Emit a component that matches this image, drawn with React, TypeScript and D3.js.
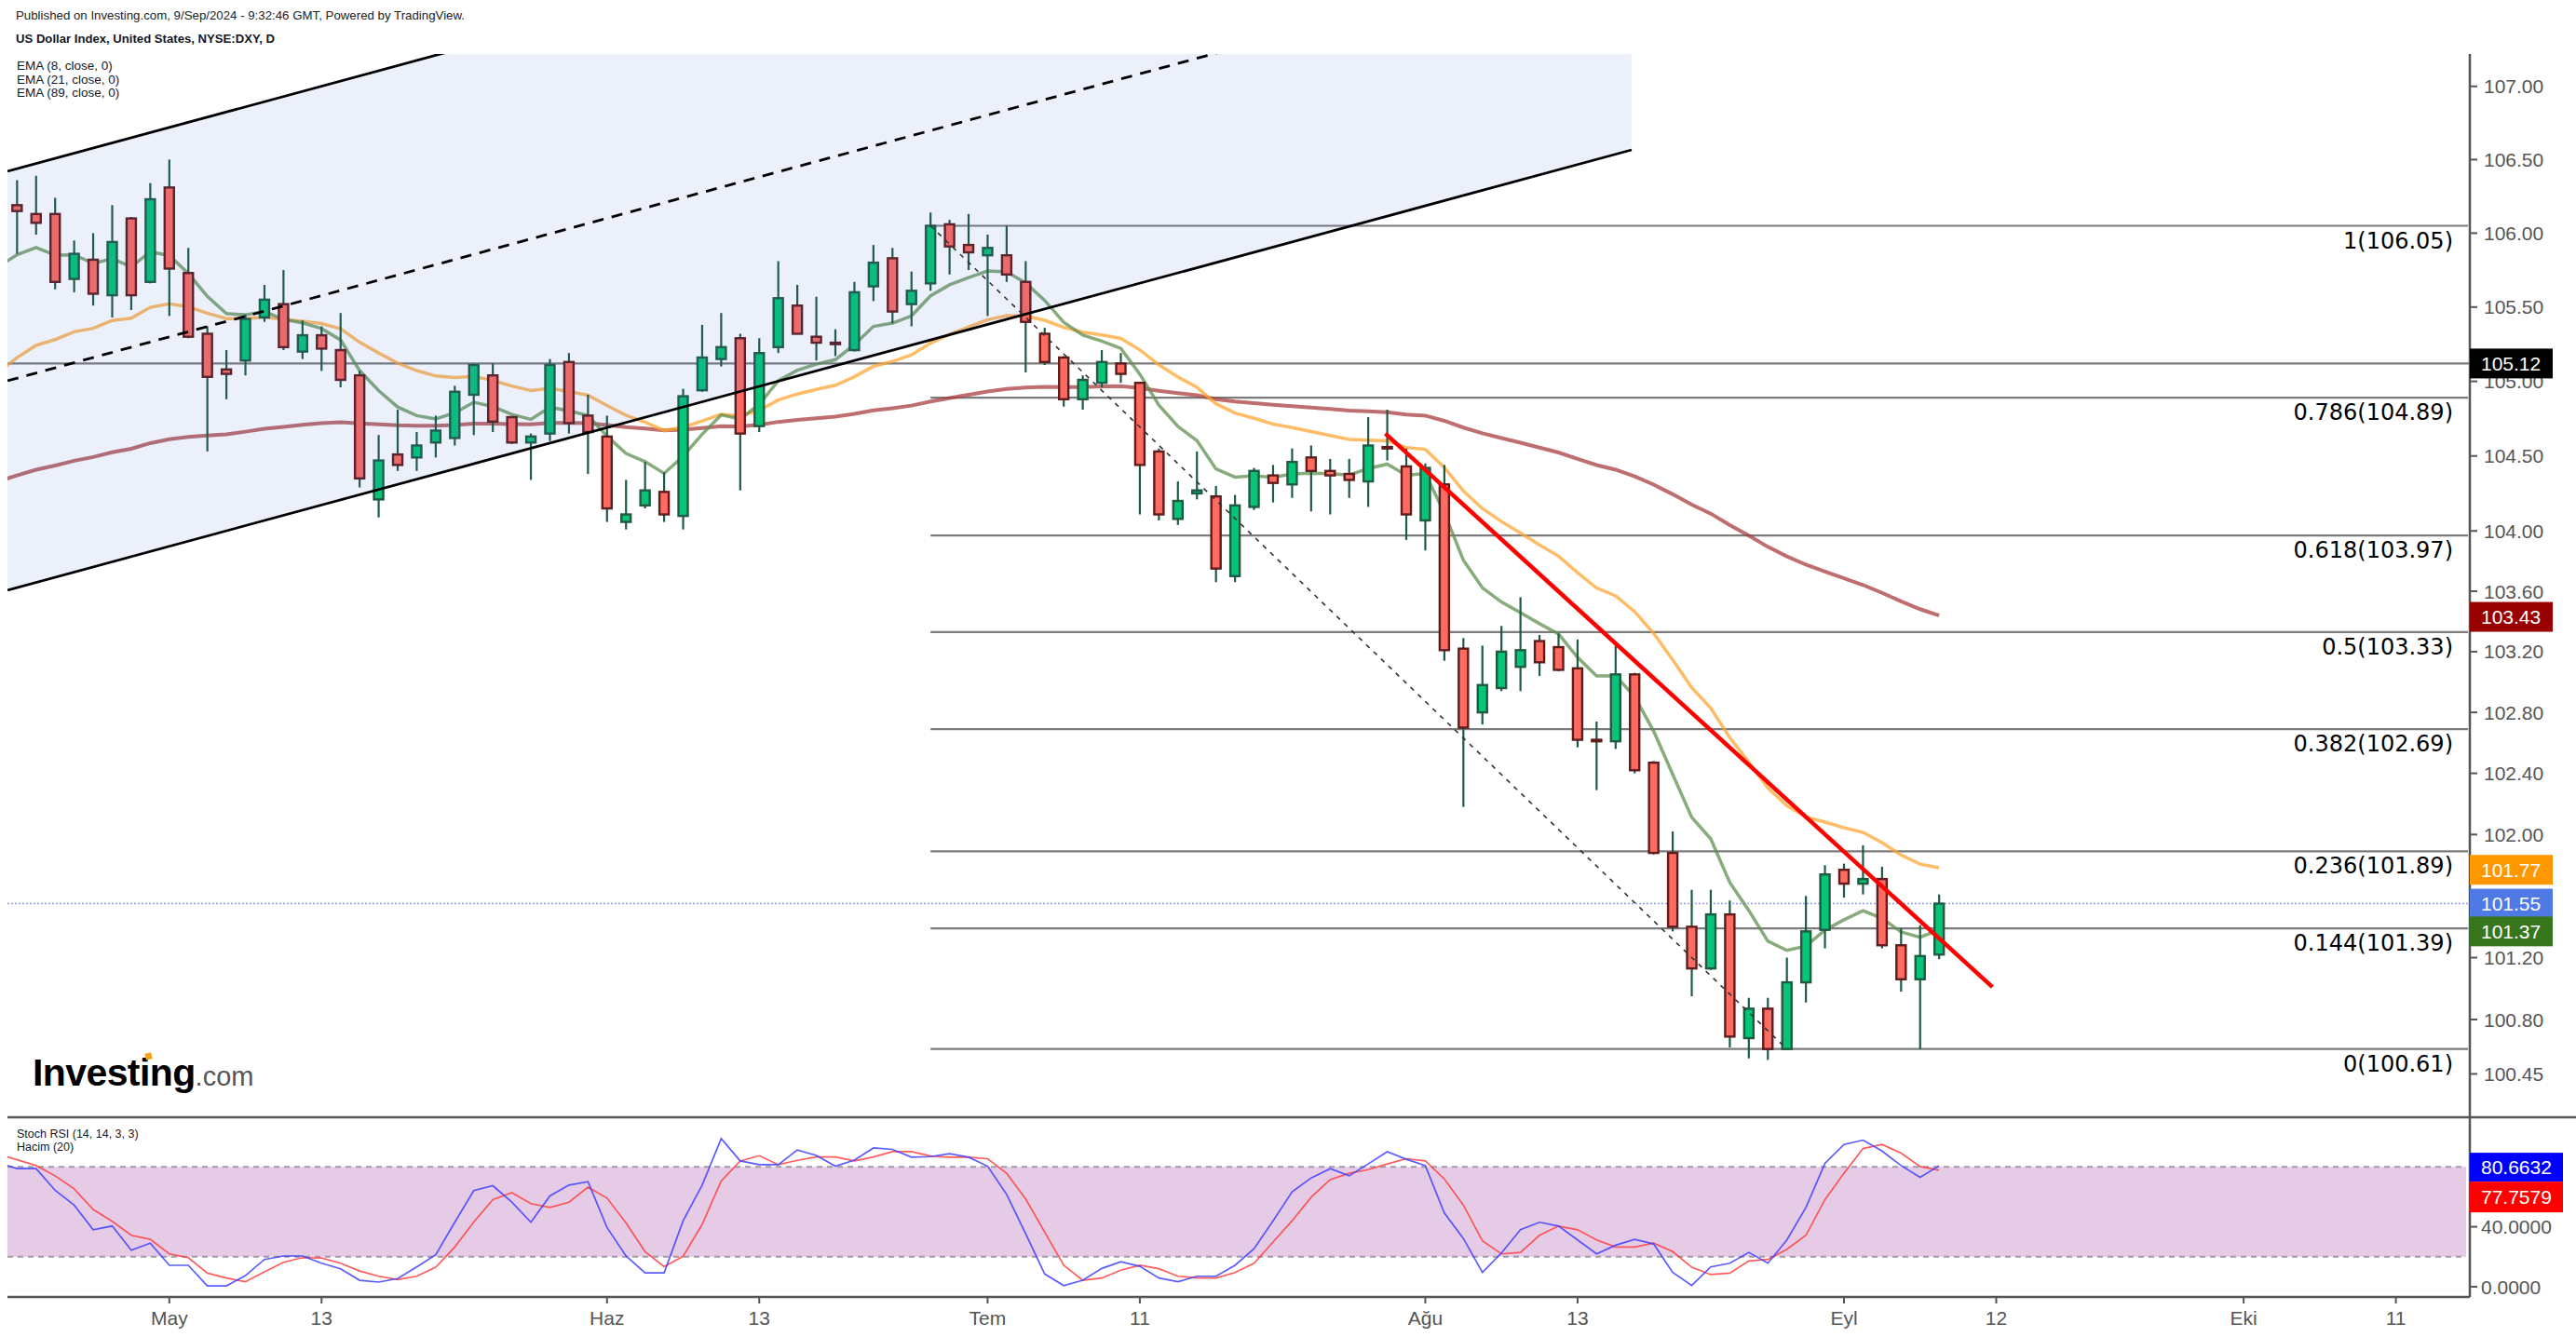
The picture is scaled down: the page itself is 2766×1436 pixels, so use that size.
import React from "react";
import * as d3 from "d3";

// ---------- DATA (bar index 0 = 1 May 2024, daily bars, first bar = index -8) ----------
const FIRST_IDX = -8;
const opens = [106.19,106.13,106.13,105.69,105.82,105.58,106.10,105.67,106.31,105.73,105.32,105.08,105.14,105.43,105.52,105.20,105.31,105.21,105.04,104.21,104.51,104.49,104.59,104.62,104.91,105.04,104.76,104.59,104.65,105.13,104.77,104.63,104.06,104.17,104.26,104.10,104.94,105.15,105.29,104.70,105.23,105.51,105.30,105.26,105.21,105.64,105.83,105.52,105.66,106.06,105.92,105.85,105.85,105.67,105.32,105.16,104.88,104.99,105.12,104.99,104.53,104.08,104.25,104.23,103.70,104.16,104.37,104.31,104.49,104.40,104.38,104.33,104.56,104.43,104.07,104.31,103.22,102.80,102.96,103.10,103.27,103.23,103.09,102.62,102.61,103.05,102.47,101.88,101.40,101.13,101.48,100.68,100.87,100.61,101.04,101.38,101.77,101.68,101.71,101.28,101.06,101.22];
const highs = [106.36,106.39,106.24,105.95,106.00,106.19,106.11,106.34,106.50,105.90,105.37,105.21,105.45,105.65,105.75,105.41,105.37,105.46,105.07,104.64,104.81,104.66,104.77,104.97,105.12,105.12,104.76,104.65,105.15,105.19,104.91,104.77,104.34,104.46,104.39,104.95,105.38,105.46,105.32,105.29,105.81,105.65,105.57,105.35,105.67,105.92,105.90,105.74,106.14,106.09,106.13,105.99,106.05,105.81,105.36,105.17,105.04,105.21,105.19,104.99,104.55,104.33,104.53,104.30,104.24,104.42,104.44,104.55,104.57,104.48,104.48,104.76,104.81,104.55,104.45,104.44,103.29,103.24,103.37,103.56,103.31,103.32,103.28,102.74,103.24,103.06,102.48,102.02,101.64,101.64,101.57,100.94,100.94,101.20,101.60,101.80,101.81,101.93,101.79,101.39,101.41,101.61];
const lows = [105.86,105.99,105.62,105.60,105.51,105.43,105.48,105.66,105.44,105.29,104.53,104.88,105.04,105.40,105.21,105.15,105.07,104.96,104.29,104.09,104.40,104.40,104.49,104.57,104.64,104.66,104.58,104.34,104.60,104.65,104.38,104.06,104.01,104.15,104.06,104.01,104.93,105.10,104.27,104.66,105.19,105.32,105.14,105.17,105.20,105.54,105.39,105.37,105.61,105.72,105.75,105.44,105.67,105.06,105.11,104.83,104.81,104.96,104.99,104.11,104.07,104.04,104.21,103.66,103.66,104.14,104.19,104.22,104.13,104.11,104.22,104.16,104.47,103.94,103.87,103.14,102.18,102.72,102.94,102.94,103.04,103.07,102.57,102.29,102.56,102.40,101.87,101.37,100.95,101.12,100.62,100.55,100.54,100.61,100.91,101.26,101.59,101.61,101.26,100.98,100.61,101.19];
const closes = [106.15,106.07,105.67,105.86,105.59,105.94,105.58,106.23,105.76,105.30,105.03,105.05,105.42,105.55,105.23,105.31,105.22,105.01,104.35,104.47,104.44,104.57,104.67,104.93,105.11,104.73,104.59,104.63,105.11,104.72,104.66,104.15,104.11,104.27,104.11,104.90,105.16,105.23,104.65,105.19,105.56,105.32,105.26,105.25,105.60,105.80,105.47,105.61,106.05,105.91,105.87,105.90,105.72,105.40,105.13,104.88,105.01,105.13,105.05,104.44,104.11,104.20,104.27,103.75,104.17,104.40,104.32,104.46,104.40,104.37,104.34,104.57,104.55,104.11,104.42,103.21,102.70,102.98,103.20,103.21,103.13,103.08,102.62,102.61,103.05,102.42,101.88,101.40,101.13,101.48,100.69,100.87,100.61,101.04,101.37,101.74,101.68,101.71,101.28,101.06,101.21,101.55];

// Stoch RSI (first value = bar index -9)
const STOCH_FIRST_IDX = -9;
const stochK = [82.9,78.8,78.8,64.3,54.4,38.0,40.5,24.4,29.1,14.3,14.3,0.6,0.6,7.4,18.2,20.5,20.5,15.7,12.0,4.3,3.1,5.4,13.2,21.3,43.0,64.1,67.4,56.4,43.0,60.6,67.8,70.1,39.5,20.5,9.3,9.3,44.0,67.8,98.8,83.9,81.4,81.4,91.2,87.6,80.4,84.5,92.6,91.6,86.4,86.8,88.7,86.4,80.4,61.6,35.3,8.5,0.8,4.3,12.2,16.7,13.6,5.8,3.3,7.0,7.0,14.3,25.4,44.0,63.3,72.6,78.8,74.0,81.9,90.1,85.0,80.8,49.2,32.2,9.5,22.5,38.0,43.0,40.5,31.2,21.9,27.7,31.6,28.5,9.5,0.8,13.2,15.7,22.9,15.7,31.2,52.9,82.3,94.9,97.8,90.5,80.8,73.0,80.66];
const stochD = [88.5,84.7,80.8,74.0,65.3,51.5,43.6,34.3,31.6,21.9,19.4,9.1,5.8,3.3,9.9,16.3,19.4,19.2,15.7,10.5,7.0,4.8,7.0,13.0,26.5,43.2,58.1,62.8,55.4,52.9,56.4,66.4,59.1,42.6,23.4,13.4,20.3,41.6,70.5,83.9,87.4,81.4,84.3,86.6,86.6,83.9,86.6,90.1,90.1,87.2,86.4,86.4,85.4,75.7,58.5,36.4,14.3,4.3,5.8,11.0,14.3,12.0,7.0,5.8,5.8,9.5,15.7,29.8,44.0,59.7,71.5,75.7,78.1,81.9,85.4,83.9,71.9,54.4,30.6,21.9,22.9,34.3,40.5,38.0,31.2,26.5,26.5,29.1,23.4,13.0,8.1,9.1,17.2,18.2,25.0,34.3,58.1,75.7,92.2,94.9,89.1,80.2,77.76];

// EMA values read at bar index -9 (seeds)
const ema8Seed = 105.77;
const ema21Seed = 105.06;
const ema89Seed = 104.33;

const xTickIdx = [0, 8, 23, 31, 43, 51, 66, 74, 88, 96, 109, 117];
const xTickLabels = ["May", "13", "Haz", "13", "Tem", "11", "Ağu", "13", "Eyl", "12", "Eki", "11"];
const priceTicks = [107, 106.5, 106, 105.5, 105, 104.5, 104, 103.6, 103.2, 102.8, 102.4, 102, 101.2, 100.8, 100.45];
const stochTicks = [40, 0];

const fibLevels = [1, 0.786, 0.618, 0.5, 0.382, 0.236, 0.144, 0];
const fibPrices = [106.05, 104.89, 103.97, 103.33, 102.69, 101.89, 101.39, 100.61];
const fibAnchorIdx = [40, 85];

const hLinePrice = 105.12;
const lastPrice = 101.55;
const ema8Last = 101.37;
const ema21Last = 101.77;
const ema89Last = 103.43;
const stochKLast = "80.6632";
const stochDLast = "77.7579";

// channel: lower line anchors (bar index, price) and upper line price at start
const channelIdx = [-8.5, 76.84];
const channelLowerPrices = [103.607, 106.566];
const channelUpperStartPrice = 106.42;
// red trend line
const trendIdx = [63.9, 95.8];
const trendPrices = [104.65, 101.01];

// ---------- LAYOUT ----------
const W = 2766, H = 1436;
const L = 8, R = 2652, TOP = 58, MID = 1200, BOT = 1393;
const FONT = "'Liberation Sans', Arial, sans-serif";

function emaSeries(seed: number, n: number): number[] {
  const a = 2 / (n + 1);
  const out = [seed];
  let e = seed;
  for (const c of closes) {
    e = a * c + (1 - a) * e;
    out.push(e);
  }
  return out; // starts at index -9
}

export default function App() {
  const x = d3.scaleLinear().domain([0, 88]).range([181.8, 1980]);
  const y = d3.scaleLog().domain([100.61, 106.05]).range([1126.7, 242.5]);
  const s = d3.scaleLinear().domain([0, 100]).range([1382, 1221]);

  const bars = closes.map((c, k) => ({
    i: FIRST_IDX + k, o: opens[k], h: highs[k], l: lows[k], c,
  }));

  const emaLine = d3.line<number>().x((_, k) => x(FIRST_IDX - 1 + k)).y((v) => y(v));
  const e8 = emaSeries(ema8Seed, 8);
  const e21 = emaSeries(ema21Seed, 21);
  const e89 = emaSeries(ema89Seed, 89);

  const stochLine = d3.line<number>().x((_, k) => x(STOCH_FIRST_IDX + k)).y((v) => s(v));

  // channel geometry (in pixel space, parallel lines)
  const cx0 = x(channelIdx[0]), cx1 = x(channelIdx[1]);
  const ly0 = y(channelLowerPrices[0]), ly1 = y(channelLowerPrices[1]);
  const off = ly0 - y(channelUpperStartPrice);
  const fillPts = [
    [cx0, ly0 - off], [cx1, ly1 - off], [cx1, ly1], [cx0, ly0],
  ];

  const fx0 = x(fibAnchorIdx[0]);
  const fx1 = x(fibAnchorIdx[1]);

  const candleW = 10;

  const priceBox = (val: number, label: string, color: string, key: string) => {
    const cy = y(val);
    return (
      <g key={key}>
        <rect x={R} y={cy - 16} width={89} height={32} fill={color} />
        <text x={2664} y={cy} dy="0.36em" fill="#fff" fontSize={21} fontFamily={FONT}>{label}</text>
      </g>
    );
  };

  return (
    <svg width={W} height={H} style={{ position: "absolute", left: 0, top: 0, background: "#fff" }}
      fontFamily={FONT}>
      <defs>
        <clipPath id="paneClip"><rect x={L} y={TOP} width={R - L} height={MID - TOP} /></clipPath>
        <clipPath id="stochClip"><rect x={L} y={MID} width={R - L} height={BOT - MID} /></clipPath>
      </defs>
      <rect x={0} y={0} width={W} height={H} fill="#fff" />

      {/* header */}
      <text x={17} y={21} fontSize={13} fill="#222" textLength={482} lengthAdjust="spacingAndGlyphs">
        Published on Investing.com, 9/Sep/2024 - 9:32:46 GMT, Powered by TradingView.
      </text>
      <text x={17} y={46} fontSize={13} fontWeight="bold" fill="#131722" textLength={278} lengthAdjust="spacingAndGlyphs">
        US Dollar Index, United States, NYSE:DXY, D
      </text>

      <g clipPath="url(#paneClip)">
        {/* fib levels */}
        {fibPrices.map((p, k) => (
          <line key={"fib" + k} x1={fx0} x2={R - 2} y1={y(p)} y2={y(p)} stroke="#7b7b7b" strokeWidth={2.2} />
        ))}
        {/* horizontal line */}
        <line x1={L} x2={R} y1={y(hLinePrice)} y2={y(hLinePrice)} stroke="#7b7b7b" strokeWidth={2.2} />
        {/* last price dotted */}
        <line x1={L} x2={R} y1={y(lastPrice)} y2={y(lastPrice)} stroke="#8aa2ea" strokeWidth={1.5} strokeDasharray="2,2" />

        {/* EMAs */}
        <path d={emaLine(e89) || ""} fill="none" stroke="#a83e3e" strokeOpacity={0.75} strokeWidth={4} />
        <path d={emaLine(e21) || ""} fill="none" stroke="#ffa533" strokeOpacity={0.75} strokeWidth={3.5} />
        <path d={emaLine(e8) || ""} fill="none" stroke="#5f8f4f" strokeOpacity={0.75} strokeWidth={3.5} />

        {/* candles */}
        {bars.map((b) => {
          const up = b.c >= b.o;
          const cxp = x(b.i);
          const top = y(Math.max(b.o, b.c));
          const bot = y(Math.min(b.o, b.c));
          const hgt = Math.max(bot - top, 1);
          return (
            <g key={"c" + b.i}>
              <line x1={cxp} x2={cxp} y1={y(b.h)} y2={y(b.l)} stroke="#1f5a42" strokeWidth={2.2} />
              <rect x={cxp - candleW / 2} y={top} width={candleW} height={hgt}
                fill={up ? "#06c576" : "#ff6b60"} stroke={up ? "#1f5a42" : "#5e1c1c"} strokeWidth={2.4} />
            </g>
          );
        })}

        {/* channel */}
        <polygon points={fillPts.map((p) => p.join(",")).join(" ")} fill="#3f6ad8" fillOpacity={0.1} />
        <line x1={cx0} y1={ly0} x2={cx1} y2={ly1} stroke="#000" strokeWidth={2.8} />
        <line x1={cx0} y1={ly0 - off} x2={cx1} y2={ly1 - off} stroke="#000" strokeWidth={2.8} />
        <line x1={cx0} y1={ly0 - off / 2} x2={cx1} y2={ly1 - off / 2} stroke="#000" strokeWidth={2.8} strokeDasharray="12,9" />

        {/* fib diagonal */}
        <line x1={fx0} y1={y(fibPrices[0])} x2={fx1} y2={y(fibPrices[fibPrices.length - 1])}
          stroke="#333" strokeWidth={1.6} strokeDasharray="5,6" />
        {/* red trend */}
        <line x1={x(trendIdx[0])} y1={y(trendPrices[0])} x2={x(trendIdx[1])} y2={y(trendPrices[1])}
          stroke="#ff0000" strokeWidth={4.5} />

        {/* fib labels */}
        {fibPrices.map((p, k) => (
          <text key={"fl" + k} x={2634} y={y(p) + 24} textAnchor="end" fontSize={24}
            fontFamily="'DejaVu Sans', Verdana, sans-serif" fill="#000">
            {`${fibLevels[k]}(${p.toFixed(2)})`}
          </text>
        ))}
      </g>

      {/* EMA legend */}
      <text x={18} y={75} fontSize={13.5} fill="#131722">EMA (8, close, 0)</text>
      <text x={18} y={89.5} fontSize={13.5} fill="#131722">EMA (21, close, 0)</text>
      <text x={18} y={104} fontSize={13.5} fill="#131722">EMA (89, close, 0)</text>

      {/* Investing logo */}
      <text x={35} y={1166} fontSize={41} fontWeight="bold" fill="#000" letterSpacing={-0.6}>
        Investing<tspan fontSize={29} fontWeight="normal" fill="#555" letterSpacing={0}>.com</tspan>
      </text>
      <rect x={156} y={1131} width={7} height={7} fill="#f7a21b" transform="rotate(-15 159.5 1134.5)" />

      {/* stoch pane */}
      <rect x={L} y={s(80)} width={2640} height={s(20) - s(80)} fill="#e5cbe6" />
      <line x1={L} x2={2648} y1={s(80)} y2={s(80)} stroke="#a099a6" strokeWidth={2} strokeDasharray="6,5" />
      <line x1={L} x2={2648} y1={s(20)} y2={s(20)} stroke="#a099a6" strokeWidth={2} strokeDasharray="6,5" />
      <g clipPath="url(#stochClip)">
        <path d={stochLine(stochD) || ""} fill="none" stroke="#ff4040" strokeOpacity={0.85} strokeWidth={1.7} />
        <path d={stochLine(stochK) || ""} fill="none" stroke="#4040ff" strokeOpacity={0.85} strokeWidth={1.7} />
      </g>
      <text x={18} y={1222} fontSize={12.5} fill="#131722">Stoch RSI (14, 14, 3, 3)</text>
      <text x={18} y={1236} fontSize={12.5} fill="#131722">Hacim (20)</text>

      {/* frames */}
      <line x1={L} x2={W} y1={MID} y2={MID} stroke="#555" strokeWidth={2.5} />
      <line x1={L} x2={R} y1={BOT} y2={BOT} stroke="#555" strokeWidth={2.5} />
      <line x1={R} x2={R} y1={TOP} y2={BOT} stroke="#555" strokeWidth={2.5} />

      {/* price axis */}
      {priceTicks.map((t) => (
        <g key={"pt" + t}>
          <line x1={R} x2={R + 8} y1={y(t)} y2={y(t)} stroke="#555" strokeWidth={2} />
          <text x={2667} y={y(t)} dy="0.36em" fontSize={21} fill="#555">{t.toFixed(2)}</text>
        </g>
      ))}
      {priceBox(hLinePrice, hLinePrice.toFixed(2), "#000", "b1")}
      {priceBox(ema89Last, ema89Last.toFixed(2), "#990000", "b2")}
      {priceBox(ema21Last, ema21Last.toFixed(2), "#ff9800", "b3")}
      {priceBox(lastPrice, lastPrice.toFixed(2), "#4f79e5", "b4")}
      {priceBox(ema8Last, ema8Last.toFixed(2), "#38761d", "b5")}

      {/* stoch axis */}
      {stochTicks.map((t) => (
        <g key={"st" + t}>
          <line x1={R} x2={R + 8} y1={s(t)} y2={s(t)} stroke="#555" strokeWidth={2} />
          <text x={2664} y={s(t)} dy="0.36em" fontSize={21} fill="#555">{t.toFixed(4)}</text>
        </g>
      ))}
      <rect x={R} y={s(+stochKLast) - 14} width={100} height={31} fill="#0000ff" />
      <text x={2664} y={s(+stochKLast) + 1.5} dy="0.36em" fill="#fff" fontSize={21}>{stochKLast}</text>
      <rect x={R} y={s(+stochKLast) + 17} width={100} height={33} fill="#ff0000" />
      <text x={2664} y={s(+stochKLast) + 33.5} dy="0.36em" fill="#fff" fontSize={21}>{stochDLast}</text>

      {/* time axis */}
      {xTickIdx.map((t, k) => (
        <g key={"xt" + k}>
          <line x1={x(t)} x2={x(t)} y1={BOT} y2={BOT + 7} stroke="#555" strokeWidth={2} />
          <text x={x(t)} y={1423} textAnchor="middle" fontSize={21} fill="#555">{xTickLabels[k]}</text>
        </g>
      ))}
    </svg>
  );
}
